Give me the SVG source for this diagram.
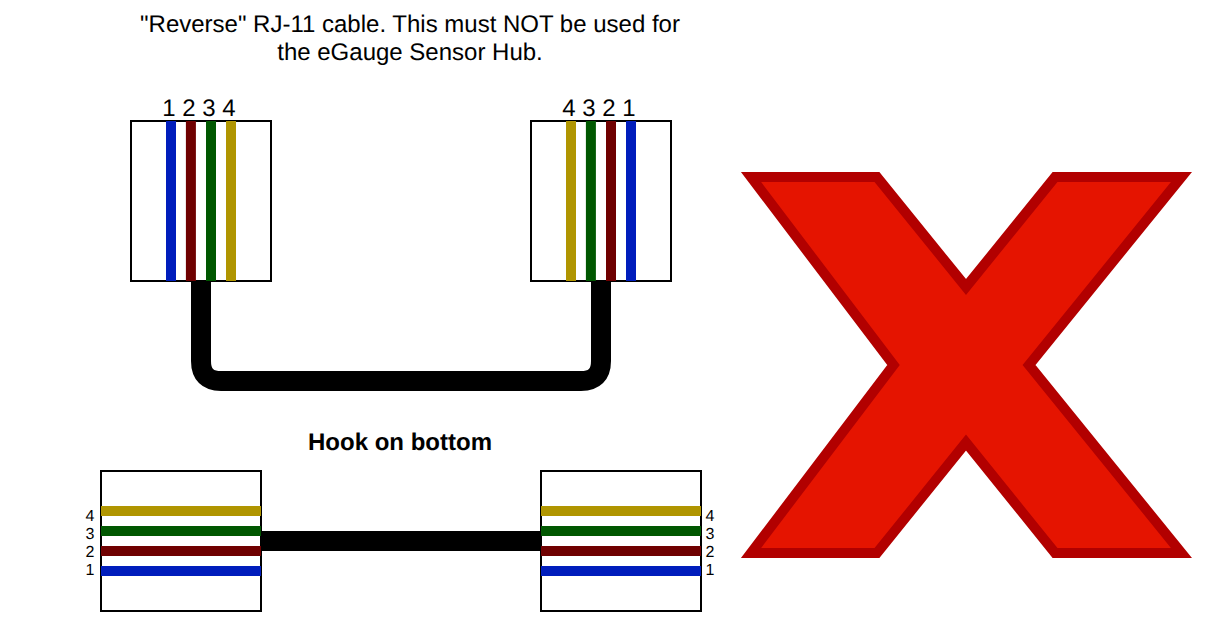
<svg xmlns="http://www.w3.org/2000/svg" width="1216" height="644" viewBox="0 0 1216 644">
<style>
text{font-family:"Liberation Sans",Arial,sans-serif;fill:#000;text-anchor:middle;text-rendering:geometricPrecision}
.t{font-size:24px}
.h{font-size:24px;font-weight:bold}
.n{font-size:16px}
.box{fill:#fff;stroke:#000;stroke-width:2}
.w{fill:none;stroke-width:10}
.blue{stroke:#001DBC}.red{stroke:#6F0000}.green{stroke:#005700}.gold{stroke:#B09500}
.cable{fill:none;stroke:#000;stroke-width:20}
</style>
<g id="title"><text class="t" x="410" y="32">"Reverse" RJ-11 cable. This must NOT be used for</text><text class="t" x="410" y="60">the eGauge Sensor Hub.</text></g>
<g id="connectors">
<path class="cable" d="M201 281V361Q201 381 221 381H581Q601 381 601 361V281"/>
<path class="cable" d="M261 541H541"/>
</g>
<g id="top-left-plug">
<rect class="box" x="131" y="121" width="140" height="160"/>
<path class="w blue" d="M171 121V281"/><path class="w red" d="M190.900 121V281"/><path class="w green" d="M211 121V281"/><path class="w gold" d="M231 121V281"/>
<text class="t" x="199" y="116">1 2 3 4</text>
</g>
<g id="top-right-plug">
<rect class="box" x="531" y="121" width="140" height="160"/>
<path class="w gold" d="M571 121V281"/><path class="w green" d="M590.900 121V281"/><path class="w red" d="M611 121V281"/><path class="w blue" d="M631 121V281"/>
<text class="t" x="599" y="116">4 3 2 1</text>
</g>
<g id="hook-label"><text class="h" x="400" y="450">Hook on bottom</text></g>
<g id="bottom-left-plug">
<rect class="box" x="101" y="471" width="160" height="140"/>
<path class="w gold" d="M101 511H261"/><path class="w green" d="M101 531H261"/><path class="w red" d="M101 551H261"/><path class="w blue" d="M101 571H261"/>
<text class="n" x="90" y="520.500">4</text><text class="n" x="90" y="538.500">3</text><text class="n" x="90" y="556.500">2</text><text class="n" x="90" y="574.500">1</text>
</g>
<g id="bottom-right-plug">
<rect class="box" x="541" y="471" width="160" height="140"/>
<path class="w gold" d="M541 511H701"/><path class="w green" d="M541 531H701"/><path class="w red" d="M541 551H701"/><path class="w blue" d="M541 571H701"/>
<text class="n" x="710" y="520.500">4</text><text class="n" x="710" y="538.500">3</text><text class="n" x="710" y="556.500">2</text><text class="n" x="710" y="574.500">1</text>
</g>
<g id="red-x">
<path d="M751 177H877L966 287L1055 177H1181.500L1029 365L1181.500 553H1055L966 442.500L877 553H751L893.500 365Z" fill="#E51400" stroke="#B20000" stroke-width="10" stroke-miterlimit="10"/>
</g>
</svg>
